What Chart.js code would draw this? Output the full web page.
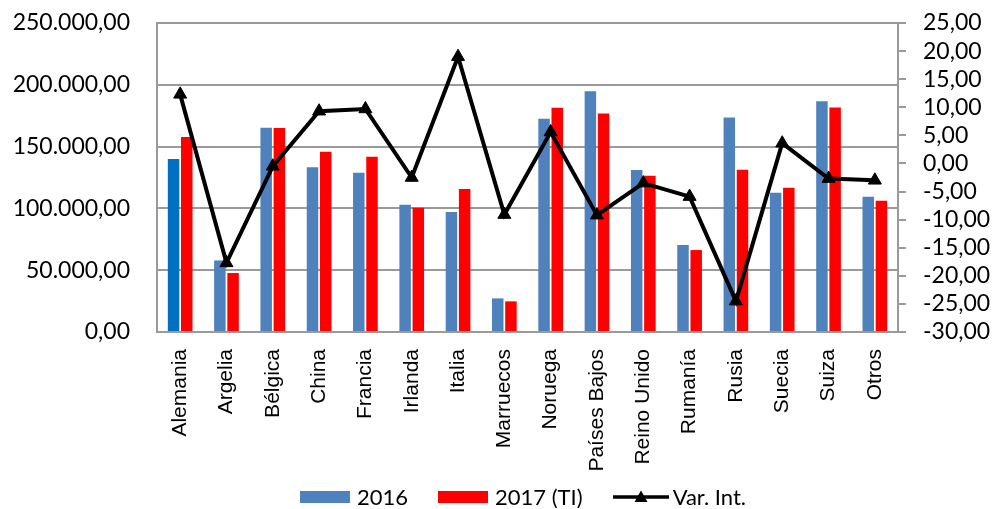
<!DOCTYPE html>
<html>
<head>
<meta charset="utf-8">
<script src="https://cdn.jsdelivr.net/npm/chart.js@4/dist/chart.umd.min.js"></script>
<style>
  html, body { margin: 0; padding: 0; background: #fff; overflow: hidden; }
  #wrap { position: relative; width: 997px; height: 509px; }
  #leyenda {
    position: absolute; left: 300px; top: 484px;
    display: flex; align-items: center;
    font-family: Lato, sans-serif; font-size: 22px; color: #000; line-height: 26px;
  }
  #leyenda .item { display: flex; align-items: center; margin-right: 30px; }
  #leyenda .caja { width: 50px; height: 12px; margin-right: 7px; }
  #leyenda svg { margin-right: 4px; }
</style>
</head>
<body>
<div id="wrap">
  <canvas id="grafico"></canvas>
  <div id="leyenda"></div>
</div>
<script>
// Datos
const paises = ["Alemania", "Argelia", "Bélgica", "China", "Francia", "Irlanda", "Italia", "Marruecos",
    "Noruega", "Países Bajos", "Reino Unido", "Rumanía", "Rusia", "Suecia", "Suiza", "Otros"];
const valores2016 = [140000, 57900, 165300, 133200, 128900, 103000, 97100, 27200,
    172600, 194700, 131000, 70400, 173600, 112700, 186600, 109500];
const valores2017 = [157800, 47700, 165000, 145900, 141800, 100600, 115700, 24800,
    181500, 176800, 126400, 66300, 131300, 116700, 181700, 106200];
const varInt = [12.3, -17.7, -0.5, 9.3, 9.7, -2.5, 19.0, -9.1,
    5.6, -9.2, -3.5, -5.9, -24.5, 3.6, -2.7, -3.0];

const nombres = ["2016", "2017 (TI)", "Var. Int."];
const ejeIzq = { min: 0, max: 250000, paso: 50000 };
const ejeDer = { min: -30, max: 25, paso: 5 };

// Formato numérico español: 250.000,00
function formatoES(valor) {
    const partes = Math.abs(valor).toFixed(2).split(".");
    partes[0] = partes[0].replace(/\B(?=(\d{3})+(?!\d))/g, ".");
    return (valor < 0 ? "-" : "") + partes[0] + "," + partes[1];
}

const azul = "#4F81BD";
const rojo = "#FF0000";
const coloresAzul = valores2016.map((v, i) => (i === 0 ? "#0070C0" : azul));
const gris = "#9a9a9a";

// Leyenda en HTML (barra, barra, línea con triángulo)
(function crearLeyenda() {
    const cont = document.getElementById("leyenda");
    const marcas = [
        `<span class="caja" style="background:${azul}"></span>`,
        `<span class="caja" style="background:${rojo}"></span>`,
        `<svg width="56" height="14"><line x1="0" y1="7" x2="56" y2="7" stroke="#000" stroke-width="3.5"/>` +
            `<polygon points="28,0.5 34.5,12 21.5,12" fill="#000"/></svg>`,
    ];
    nombres.forEach((n, i) => {
        const item = document.createElement("span");
        item.className = "item";
        item.innerHTML = marcas[i] + `<span>${n}</span>`;
        cont.appendChild(item);
    });
})();

const ctx = document.getElementById("grafico").getContext("2d");
new Chart(ctx, {
    type: "bar",
    data: {
        labels: paises,
        datasets: [
            {
                label: nombres[0],
                data: valores2016,
                backgroundColor: coloresAzul,
                yAxisID: "y",
                order: 1,
                categoryPercentage: 0.57,
                barPercentage: 0.87,
            },
            {
                label: nombres[1],
                data: valores2017,
                backgroundColor: rojo,
                yAxisID: "y",
                order: 1,
                categoryPercentage: 0.57,
                barPercentage: 0.87,
            },
            {
                type: "line",
                label: nombres[2],
                data: varInt,
                yAxisID: "y1",
                order: 0,
                borderColor: "#000",
                backgroundColor: "#000",
                borderWidth: 4,
                tension: 0,
                pointStyle: "triangle",
                pointRadius: 7.5,
                pointBorderWidth: 1,
                pointBackgroundColor: "#000",
            },
        ],
    },
    options: {
        responsive: true,
        maintainAspectRatio: false,
        animation: false,
        layout: { padding: { top: 23, left: 0, right: 0, bottom: 37 } },
        scales: {
            x: {
                grid: { display: false, drawTicks: false },
                border: { color: gris, width: 2 },
                ticks: {
                    color: "#000",
                    font: { family: "'Liberation Sans', Arial", size: 21 },
                    maxRotation: 90,
                    minRotation: 90,
                    padding: 17,
                    autoSkip: false,
                },
                afterFit: (scale) => { scale.height = 140; },
            },
            y: {
                position: "left",
                min: ejeIzq.min,
                max: ejeIzq.max,
                // marcas invisibles para separar las etiquetas del eje
                grid: { color: gris, lineWidth: 2, drawTicks: true, tickLength: 27, tickColor: "transparent" },
                border: { color: gris, width: 2 },
                ticks: {
                    stepSize: ejeIzq.paso,
                    autoSkip: false,
                    color: "#000",
                    font: { family: "Lato", size: 23 },
                    padding: 0,
                    callback: (v) => formatoES(v),
                },
                afterFit: (scale) => { scale.width = 157; },
            },
            y1: {
                position: "right",
                min: ejeDer.min,
                max: ejeDer.max,
                grid: {
                    drawOnChartArea: false,
                    color: gris,
                    lineWidth: 2,
                    tickLength: 22,
                    tickBorderDash: [7, 60],
                },
                border: { color: gris, width: 2 },
                ticks: {
                    stepSize: ejeDer.paso,
                    autoSkip: false,
                    color: "#000",
                    font: { family: "Lato", size: 23 },
                    padding: 3,
                    callback: (v) => formatoES(v),
                },
                afterFit: (scale) => { scale.width = 99; },
            },
        },
        plugins: {
            legend: { display: false },
            tooltip: { enabled: false },
        },
    },
});
</script>
</body>
</html>
